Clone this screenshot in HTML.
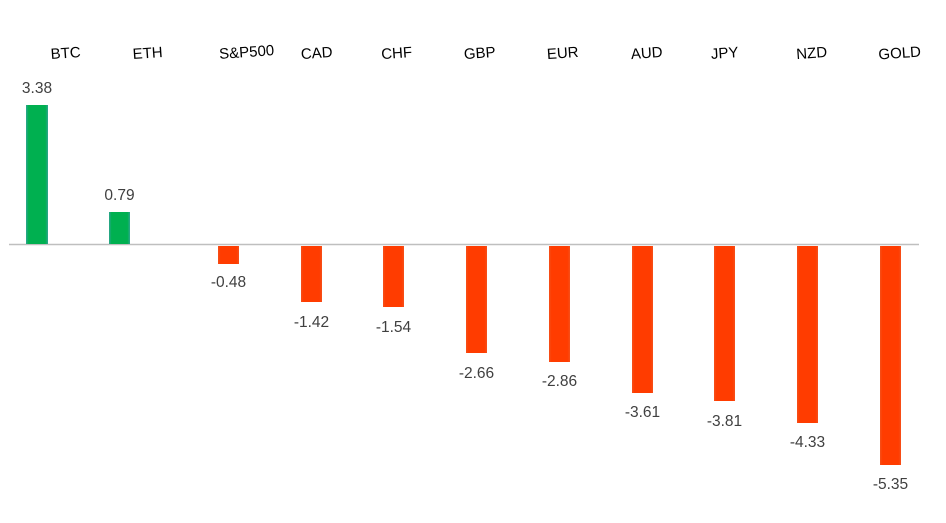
<!DOCTYPE html>
<html><head><style>body{margin:0;background:#fff}</style></head><body>
<svg width="946" height="518" xmlns="http://www.w3.org/2000/svg" font-family="Liberation Sans, sans-serif">
<defs>
<linearGradient id="g" x1="0" x2="1"><stop offset="0" stop-color="#2ea58f"/><stop offset="0.12" stop-color="#00b050"/><stop offset="0.88" stop-color="#00b050"/><stop offset="1" stop-color="#2ea58f"/></linearGradient>
<linearGradient id="r" x1="0" x2="1"><stop offset="0" stop-color="#f5501a"/><stop offset="0.12" stop-color="#ff3c00"/><stop offset="0.88" stop-color="#ff3c00"/><stop offset="1" stop-color="#f5501a"/></linearGradient>
</defs>
<line x1="9" y1="244.5" x2="919" y2="244.5" stroke="#bfbfbf" stroke-width="1.5"/>
<rect x="26" y="105" width="22" height="139" fill="url(#g)"/>
<rect x="109" y="212" width="21" height="32" fill="url(#g)"/>
<g fill="url(#r)">
<rect x="218" y="246" width="21" height="18"/>
<rect x="301" y="246" width="21" height="56"/>
<rect x="383" y="246" width="21" height="61"/>
<rect x="466" y="246" width="21" height="107"/>
<rect x="549" y="246" width="21" height="116"/>
<rect x="632" y="246" width="21" height="147"/>
<rect x="714" y="246" width="21" height="155"/>
<rect x="797" y="246" width="21" height="177"/>
<rect x="880" y="246" width="21" height="219"/>
</g>
<g font-size="15" fill="#000" text-anchor="middle">
<text transform="translate(66,58) rotate(-4)">BTC</text>
<text transform="translate(148,58) rotate(-4)">ETH</text>
<text transform="translate(247,57) rotate(-4)">S&amp;P500</text>
<text transform="translate(317,58) rotate(-4)">CAD</text>
<text transform="translate(397,58) rotate(-4)">CHF</text>
<text transform="translate(480,58) rotate(-4)">GBP</text>
<text transform="translate(563,58) rotate(-4)">EUR</text>
<text transform="translate(647,58) rotate(-4)">AUD</text>
<text transform="translate(725,58) rotate(-4)">JPY</text>
<text transform="translate(812,58) rotate(-4)">NZD</text>
<text transform="translate(900,58) rotate(-4)">GOLD</text>
</g>
<g font-size="15.5" fill="#404040" text-anchor="middle">
<text x="37" y="93">3.38</text>
<text x="119.5" y="200">0.79</text>
<text x="228.5" y="287">-0.48</text>
<text x="311.5" y="327">-1.42</text>
<text x="393.5" y="332">-1.54</text>
<text x="476.5" y="378">-2.66</text>
<text x="559.5" y="386">-2.86</text>
<text x="642.5" y="417">-3.61</text>
<text x="724.5" y="426">-3.81</text>
<text x="807.5" y="447">-4.33</text>
<text x="890.5" y="489">-5.35</text>
</g>
</svg>
</body></html>
